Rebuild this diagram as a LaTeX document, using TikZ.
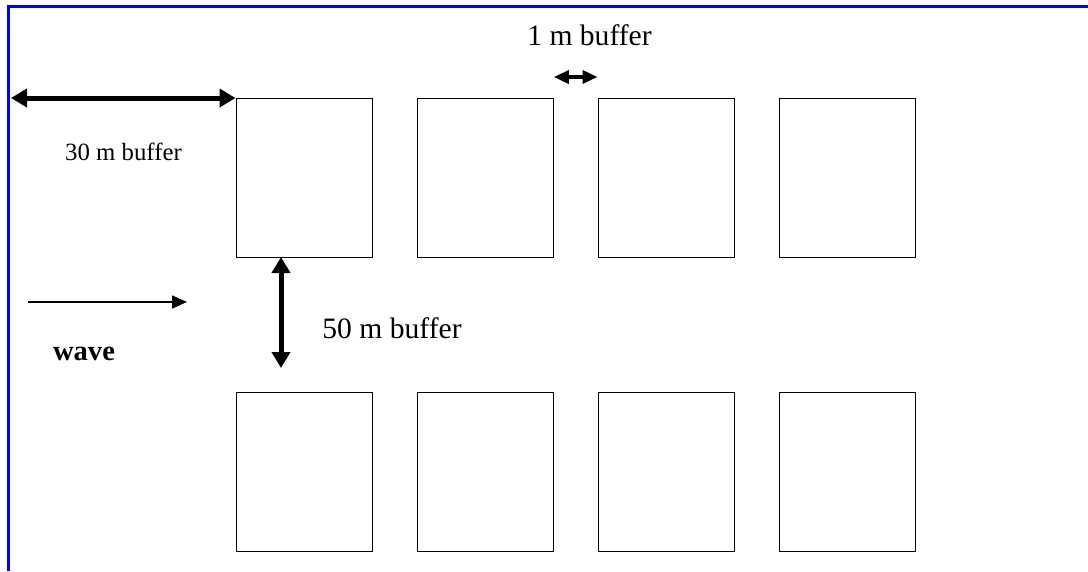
\documentclass[tikz,border=0pt]{standalone}
\usepackage{fontspec}
\setmainfont{Liberation Serif}
\usetikzlibrary{arrows.meta}
\definecolor{frameblue}{RGB}{0,0,255}
\begin{document}
\begin{tikzpicture}[x=1pt,y=-1pt,
  plotbox/.style={draw=black,line width=1.3pt,minimum width=136pt,minimum height=159pt,inner sep=0pt,anchor=north west},
  bufarrow/.style={line width=5pt,{Triangle[length=16pt,width=18pt]}-{Triangle[length=16pt,width=18pt]}},
  smallbuf/.style={line width=3.5pt,{Triangle[length=15pt,width=13pt]}-{Triangle[length=15pt,width=13pt]}},
  wavearrow/.style={line width=1.5pt,-{Triangle[length=15pt,width=13pt]}},
  lbl/.style={inner sep=0pt,anchor=base}
]
\useasboundingbox (0,0) rectangle (1088,571);
% frame
\draw[frameblue,line width=3pt] (8.5,571) -- (8.5,6) -- (1088,6);
% plots
\node[plotbox] (p11) at (235.5,98) {};
\node[plotbox] (p12) at (416.5,98) {};
\node[plotbox] (p13) at (597.5,98) {};
\node[plotbox] (p14) at (778.5,98) {};
\node[plotbox] (p21) at (235.5,392) {};
\node[plotbox] (p22) at (416.5,392) {};
\node[plotbox] (p23) at (597.5,392) {};
\node[plotbox] (p24) at (778.5,392) {};
% coordinates
\coordinate (c30) at (11,98);
\coordinate (a1) at ([yshift=21pt]p12.north east);
\coordinate (b1) at ([yshift=21pt]p13.north west);
\coordinate (f1) at (281,257);
\coordinate (f2) at (281,368);
\coordinate (w1) at (28,302);
\coordinate (w2) at (187,302);
% arrows
\draw[bufarrow] (c30) -- (p11.north west);
\draw[smallbuf] (a1) -- (b1);
\draw[bufarrow] (f1) -- (f2);
\draw[wavearrow] (w1) -- (w2);
% labels
\node[lbl,font=\fontsize{29.6}{32}\selectfont] (t1) at (589.5,45) {1 m buffer};
\node[lbl,font=\fontsize{24.8}{28}\selectfont] (t30) at (123.5,160) {30 m buffer};
\node[lbl,font=\fontsize{29.6}{32}\selectfont] (t50) at (392,338) {50 m buffer};
\node[lbl,font=\fontsize{28.6}{32}\selectfont\bfseries] (tw) at (84,360) {wave};
\end{tikzpicture}
\end{document}
